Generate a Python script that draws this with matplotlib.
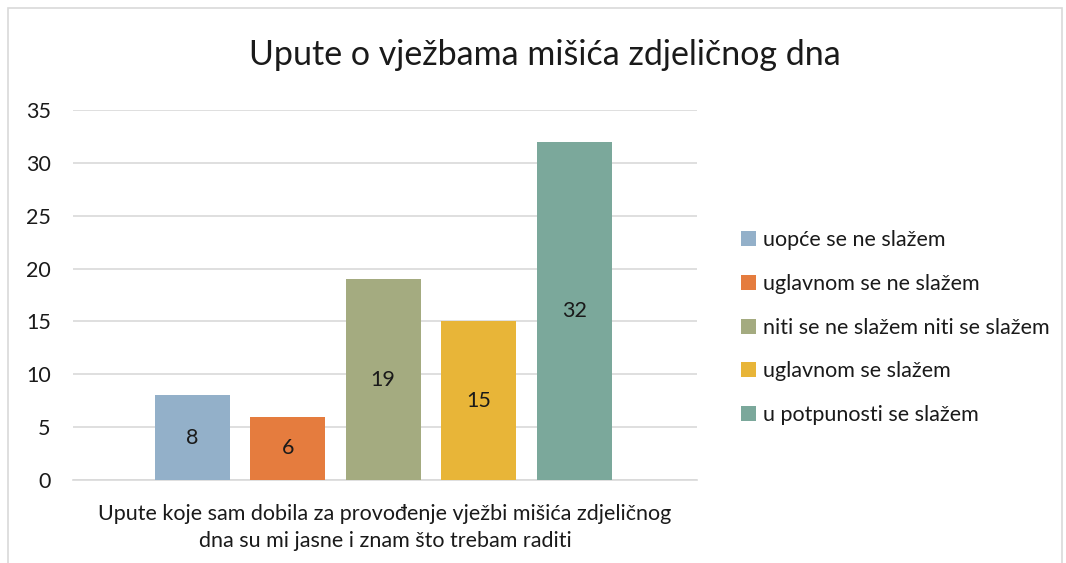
import matplotlib.pyplot as plt
import numpy as np
from matplotlib.patches import Rectangle

plt.rcParams['font.family'] = ['Lato', 'DejaVu Sans']

# data
category = "Upute koje sam dobila za provođenje vježbi mišića zdjeličnog\ndna su mi jasne i znam što trebam raditi"
series = ["uopće se ne slažem", "uglavnom se ne slažem",
          "niti se ne slažem niti se slažem", "uglavnom se slažem",
          "u potpunosti se slažem"]
values = [8, 6, 19, 15, 32]
colors = ["#93b0c9", "#e57c3e", "#a4ab80", "#e8b538", "#7ba89b"]
yticks = [0, 5, 10, 15, 20, 25, 30, 35]

fig = plt.figure(figsize=(10.66, 5.63), dpi=100)
ax = fig.add_axes([73 / 1066, 1 - 480 / 563, 624 / 1066, 370 / 563])

width = 0.12
step = 0.153
offsets = (np.arange(len(values)) - 2) * step - 0.003
for off, v, c, lab in zip(offsets, values, colors, series):
    b = ax.bar(off, v, width=width, color=c, label=lab, zorder=3)
    ax.bar_label(b, labels=[str(v)], label_type='center', fontsize=15.5,
                 color='#1a1a1a')

ax.set_xlim(-0.5, 0.5)
ax.set_ylim(0, 35)
ax.set_yticks(yticks)
ax.set_xticks([0])
ax.set_xticklabels([category], fontsize=15.5, color='#1a1a1a', linespacing=1.45)
ax.tick_params(axis='y', length=0, pad=16, labelsize=15.5, labelcolor='#1a1a1a')
ax.tick_params(axis='x', length=0, pad=17)
ax.grid(axis='y', color='#d9d9d9', linewidth=1.2, zorder=0)
for s in ['top', 'right', 'left']:
    ax.spines[s].set_visible(False)
ax.spines['bottom'].set_color('#d9d9d9')
ax.spines['bottom'].set_linewidth(1.2)

fig.text(545 / 1066, 1 - 55 / 563, "Upute o vježbama mišića zdjeličnog dna",
         ha='center', va='center', fontsize=24.5, color='#1a1a1a')

fig.legend(loc='upper left', bbox_to_anchor=(722 / 1066, 1 - 211 / 563),
           frameon=False, fontsize=15.5, labelspacing=1.1, handlelength=0.7,
           handleheight=0.7, handletextpad=0.3, labelcolor='#1a1a1a')

fig.patches.append(Rectangle((8 / 1066, -0.1), 1054 / 1066, 1.1 - 8 / 563,
                             transform=fig.transFigure, fill=False,
                             edgecolor='#d9d9d9', linewidth=1.2))

fig.savefig("out.png", dpi=100)
